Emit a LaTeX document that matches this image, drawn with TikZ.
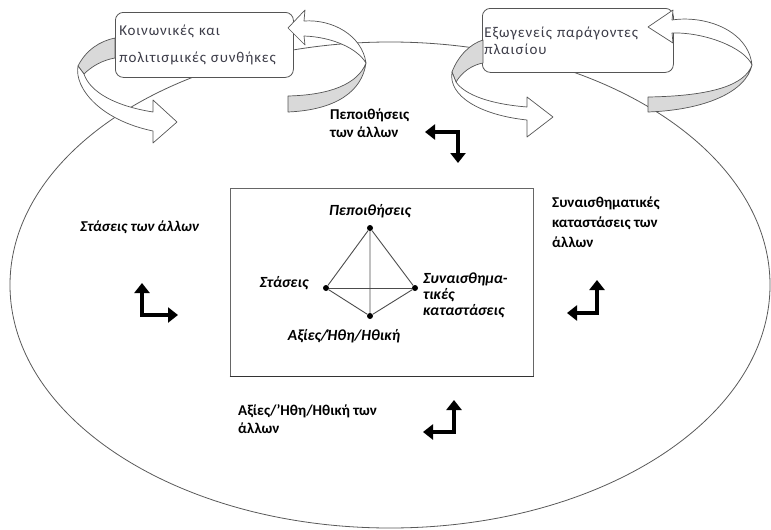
\documentclass[tikz,border=0pt]{standalone}
\usepackage{fontspec}
\setmainfont{Carlito}
\newfontfamily\boxfont[LetterSpace=6]{Carlito}
\usetikzlibrary{arrows.meta}
\definecolor{ribgrey}{RGB}{217,217,217}
\definecolor{edgecol}{RGB}{85,85,85}
\definecolor{boxtext}{RGB}{60,60,72}
\begin{document}
\begin{tikzpicture}[x=1pt,y=-1pt,
  ring/.style={draw=edgecol,line width=0.7pt,line join=round},
  bandwhite/.style={ring,fill=white},
  bandgrey/.style={ring,fill=ribgrey},
  framebox/.style={draw=edgecol,line width=0.8pt,rounded corners=8pt,fill=white,text=boxtext,align=left,inner ysep=0pt},
  outlabel/.style={font=\fontsize{15}{18}\selectfont\bfseries,align=left,inner sep=0pt,anchor=north west},
  inlabel/.style={font=\fontsize{15.5}{16}\selectfont\bfseries\itshape,align=left,inner sep=0pt},
  vertex/.style={circle,fill=black,inner sep=0pt,minimum size=6pt},
  tetra/.style={draw=gray!60!black,line width=0.9pt},
  elbow/.style={line width=4.5pt,line join=miter,arrows={Triangle[width=15pt,length=10pt]-Triangle[width=15pt,length=10pt]}},
]
\useasboundingbox (0,0) rectangle (771,530);
% outer ellipse
\draw[draw=gray!70!black,line width=0.8pt] (390,285) ellipse [x radius=380pt, y radius=243pt];
% context boxes
\node[framebox,font=\boxfont\fontsize{15}{27}\selectfont,minimum width=178pt,minimum height=65pt,text width=170pt,inner xsep=4pt,anchor=north west] (boxL) at (115,12) {Κοινωνικές και\\πολιτισμικές συνθήκες};
\node[framebox,font=\boxfont\fontsize{15}{17}\selectfont,minimum width=191pt,minimum height=64pt,text width=187pt,inner xsep=2pt,anchor=north west] (boxR) at (482,8) {Εξωγενείς παράγοντες\\πλαισίου};
% left loop
\path[bandwhite] (288,28) -- (305,10) -- (304,21) .. controls (332,19) and (362,35) .. (366,63) .. controls (357,48) and (332,37) .. (304,36) -- (305,45) -- cycle;
\path[bandgrey] (366,63) .. controls (358,84) and (330,95) .. (288,96) -- (288,112) .. controls (335,110) and (362,92) .. (366,63) -- cycle;
\path[bandgrey] (115,38) .. controls (100,41) and (86,50) .. (78,66) -- (84,74) .. controls (92,66) and (103,60) .. (115,58) -- cycle;
\path[bandwhite] (78,66) .. controls (74,88) and (100,120) .. (153,131) -- (153,143) -- (177,122) -- (153,100) -- (153,112) .. controls (115,106) and (90,92) .. (84,74) -- cycle;
% right loop
\path[bandwhite] (648,27) -- (673,10) -- (672,20) .. controls (705,15) and (748,30) .. (752,65) .. controls (745,48) and (705,32) .. (672,33) -- (673,43) -- cycle;
\path[bandgrey] (752,65) .. controls (745,85) and (712,96) .. (648,97) -- (648,112) .. controls (705,110) and (746,92) .. (752,65) -- cycle;
\path[bandgrey] (483,40) .. controls (470,44) and (458,56) .. (452,72) -- (456,82) .. controls (462,72) and (472,65) .. (483,63) -- cycle;
\path[bandwhite] (452,72) .. controls (448,96) and (480,115) .. (527,120) -- (527,137) -- (553,117) -- (527,97) -- (527,107) .. controls (490,104) and (465,95) .. (456,82) -- cycle;
% central frame
\node[draw=gray!80!black,line width=1pt,minimum width=303pt,minimum height=188pt,inner sep=0pt] (frame) at (381.5,282) {};
\draw[line width=1.4pt,draw=black!80] (frame.south west) -- (frame.south east);
% tetrahedron
\node[vertex] (vt) at (370,228) {};
\node[vertex] (vl) at (326,288) {};
\node[vertex] (vr) at (415,288) {};
\node[vertex] (vb) at (370,316) {};
\draw[tetra] (vt) -- (vl) -- (vb) -- (vr) -- (vt) -- (vb);
\draw[tetra] (vl) -- (vr);
\node[inlabel] (lt) at (370,211) {Πεποιθήσεις};
\node[inlabel] (ll) at (284,283) {Στάσεις};
\node[inlabel,anchor=north west] (lr) at (423,273) {Συναισθημα-\\τικές\\καταστάσεις};
\node[inlabel] (lb) at (344,336) {Αξίες/Ήθη/Ηθική};
% outer labels
\node[outlabel] (o1) at (330,109) {Πεποιθήσεις\\των άλλων};
\node[outlabel,font=\fontsize{15}{18}\selectfont\bfseries\itshape,anchor=west] (o2) at (80,227) {Στάσεις των άλλων};
\node[outlabel,font=\fontsize{15}{20}\selectfont\bfseries] (o3) at (552,197) {Συναισθηματικές\\καταστάσεις των\\άλλων};
\node[outlabel] (o4) at (238,404) {Αξίες/'Ηθη/Ηθική των\\άλλων};
% elbow arrows
\coordinate (a1s) at (425,132); \coordinate (a1c) at (458,132); \coordinate (a1e) at (458,163);
\coordinate (a2s) at (142,283); \coordinate (a2c) at (142,315); \coordinate (a2e) at (178,315);
\coordinate (a3s) at (597,280); \coordinate (a3c) at (597,313); \coordinate (a3e) at (567,313);
\coordinate (a4s) at (454,400); \coordinate (a4c) at (454,432); \coordinate (a4e) at (423,432);
\draw[elbow] (a1s) -- (a1c) -- (a1e);
\draw[elbow] (a2s) -- (a2c) -- (a2e);
\draw[elbow] (a3s) -- (a3c) -- (a3e);
\draw[elbow] (a4s) -- (a4c) -- (a4e);
\end{tikzpicture}
\end{document}
